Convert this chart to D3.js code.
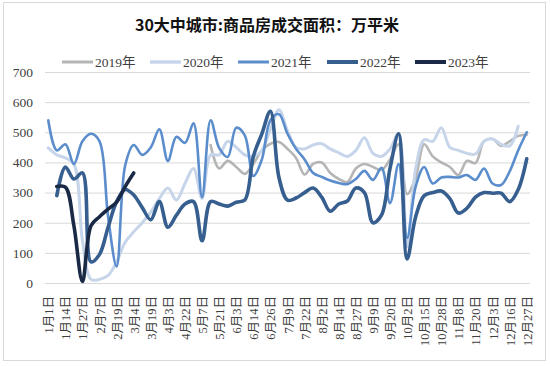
<!DOCTYPE html>
<html><head><meta charset="utf-8">
<script src="https://cdn.jsdelivr.net/npm/d3@7"></script>
<style>body{margin:0;background:#fff} svg{display:block}</style>
</head><body><svg id="c" width="550" height="366"></svg>
<script>
const tickLabels = ["1月1日","1月14日","1月27日","2月7日","2月19日","3月4日","3月19日","4月3日","4月22日","5月7日","5月21日","6月3日","6月14日","6月26日","7月9日","7月22日","8月2日","8月14日","8月27日","9月9日","9月20日","10月2日","10月15日","10月28日","11月8日","11月20日","12月3日","12月16日","12月27日"];
const years = ["2019年","2020年","2021年","2022年","2023年"];
const yTicks = [0,100,200,300,400,500,600,700];
const N = null;
const s2019 = [N,N,N,N,N,N,N,N,N,N,N,N,N,N,N,N,N,N,N,458,380,405,385,362,395,440,462,468,445,415,360,395,400,365,345,335,380,395,385,375,410,460,295,350,460,420,400,385,358,405,398,470,478,455,470,488,492];
const s2020 = [448,425,415,395,140,12,12,25,70,135,170,200,235,280,315,275,330,380,280,425,425,470,450,425,420,440,510,575,505,450,445,458,462,445,432,420,440,482,430,420,445,495,120,380,475,470,515,450,440,430,428,470,478,460,455,520,N];
const s2021 = [540,440,460,395,470,495,470,220,55,390,458,425,450,510,405,485,465,530,285,540,448,418,515,490,355,410,540,560,495,445,410,365,352,340,332,328,345,372,342,382,265,395,150,320,385,330,350,352,350,358,342,380,330,325,370,440,500];
const s2022 = [N,290,385,345,365,70,95,185,270,310,292,250,210,270,185,225,262,270,140,270,262,255,268,275,420,495,570,350,275,282,300,315,285,238,262,272,315,300,200,225,380,495,80,220,290,300,305,280,232,248,285,300,298,298,270,310,412];
const s2023 = [N,320,318,190,5,190,220,245,268,320,365,N,N,N,N,N,N,N,N,N,N,N,N,N,N,N,N,N,N,N,N,N,N,N,N,N,N,N,N,N,N,N,N,N,N,N,N,N,N,N,N,N,N,N,N,N,N];
const seriesList = [s2019,s2020,s2021,s2022,s2023];
const colors = ["#b5b5b5","#c6d5ea","#5b8dcc","#365e8e","#1a2946"];
const widths = [2.6,3,2.6,3.6,3.6];

const svg = d3.select("#c");
svg.append("rect").attr("x",3.5).attr("y",2.5).attr("width",542).attr("height",358)
  .attr("fill","#fff").attr("stroke","#d9d9d9");

const n = s2021.length;
const x = d3.scalePoint().domain(d3.range(n)).range([44,531]).padding(0.5);
const y = d3.scaleLinear().domain([0,700]).range([283,72]);

// y axis + gridlines
const gy = svg.append("g").attr("transform","translate(44,0)")
  .call(d3.axisLeft(y).tickValues(yTicks).tickSize(-(530-44)).tickPadding(11));
gy.select(".domain").remove();
gy.selectAll(".tick line").attr("stroke","#d9d9d9").attr("stroke-width",1).attr("x1",1);
gy.selectAll(".tick text").attr("font-family","'Liberation Serif', serif").attr("font-size",13.5).attr("fill","#404040");

// x axis
const gx = svg.append("g").attr("transform","translate(0,283)")
  .call(d3.axisBottom(x).tickValues(d3.range(0,n,2)).tickFormat(i=>tickLabels[i/2]).tickSize(0));
gx.select(".domain").remove();
gx.selectAll("text").attr("transform","rotate(-90)").attr("text-anchor","end")
  .attr("x",-13).attr("y",0).attr("dy","0.36em")
  .attr("font-family","'Liberation Serif', 'Noto Sans CJK SC', serif").attr("font-size",12.5).attr("fill","#404040");

// lines
const line = d3.line().defined(d=>d!=null).x((d,i)=>x(i)).y(d=>y(d)).curve(d3.curveCatmullRom.alpha(0.5));
seriesList.forEach((s,k)=>{
  svg.append("path").datum(s).attr("fill","none").attr("stroke",colors[k])
    .attr("stroke-width",widths[k]).attr("stroke-linejoin","round").attr("stroke-linecap","round")
    .attr("d", line);
});

// title
svg.append("text").attr("x",267).attr("y",31).attr("text-anchor","middle")
  .attr("font-family","'Noto Sans CJK SC', sans-serif").attr("font-weight","bold").attr("font-size",16)
  .attr("fill","#111").text("30大中城市:商品房成交面积：万平米");

// legend
const legendX = [62,150,238,327,415];
years.forEach((t,k)=>{
  const g = svg.append("g").attr("transform",`translate(${legendX[k]},62)`);
  g.append("line").attr("x1",0).attr("x2",31).attr("y1",0).attr("y2",0)
    .attr("stroke",colors[k]).attr("stroke-width",widths[k]+0.4);
  g.append("text").attr("x",33).attr("y",0).attr("dy","0.35em")
    .attr("font-family","'Liberation Serif', 'Noto Sans CJK SC', serif").attr("font-size",13.5)
    .attr("fill","#404040").text(t);
});
</script></body></html>
